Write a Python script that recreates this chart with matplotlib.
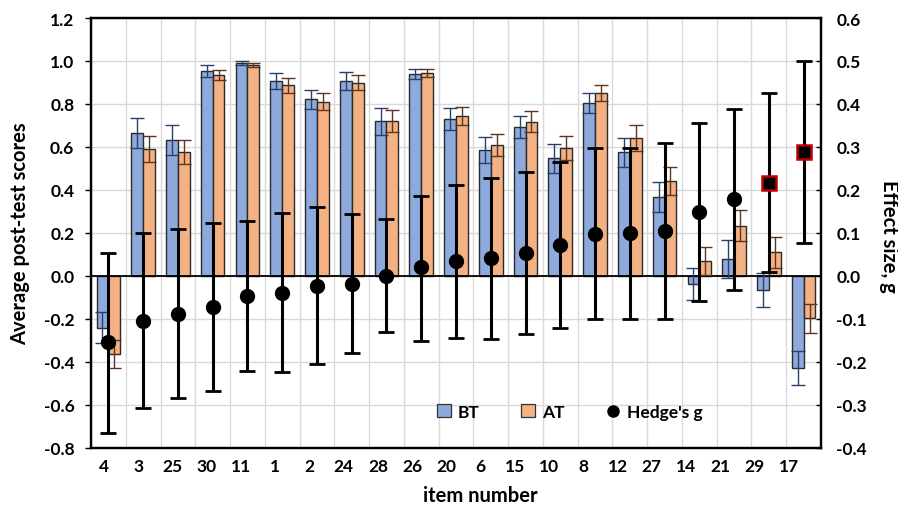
import numpy as np
import matplotlib
matplotlib.use("Agg")
import matplotlib.pyplot as plt
from matplotlib.patches import Patch
from matplotlib.lines import Line2D

plt.rcParams['font.family'] = ['Lato', 'DejaVu Sans']
plt.rcParams['font.weight'] = 'bold'

# Items in the order shown on the x-axis
items = ['4', '3', '25', '30', '11', '1', '2', '24', '28', '26', '20',
         '6', '15', '10', '8', '12', '27', '14', '21', '29', '17']

# Average post-test scores (left axis) with error bars
bt = [-0.240, 0.665, 0.633, 0.952, 0.990, 0.907, 0.823, 0.907, 0.720, 0.940, 0.730,
      0.586, 0.692, 0.547, 0.803, 0.575, 0.369, -0.037, 0.079, -0.065, -0.428]
bt_err = [0.073, 0.070, 0.068, 0.028, 0.010, 0.039, 0.044, 0.040, 0.062, 0.023, 0.050,
          0.060, 0.052, 0.066, 0.047, 0.067, 0.070, 0.073, 0.088, 0.078, 0.079]
at = [-0.363, 0.591, 0.575, 0.933, 0.981, 0.887, 0.811, 0.899, 0.720, 0.944, 0.743,
      0.611, 0.718, 0.595, 0.851, 0.642, 0.443, 0.071, 0.234, 0.110, -0.197]
at_err = [0.067, 0.060, 0.056, 0.023, 0.010, 0.035, 0.040, 0.035, 0.052, 0.020, 0.042,
          0.051, 0.050, 0.055, 0.037, 0.060, 0.064, 0.065, 0.073, 0.071, 0.068]

# Hedge's g (right axis) with confidence interval bounds
g = [-0.154, -0.105, -0.088, -0.072, -0.047, -0.039, -0.023, -0.018, 0.000, 0.020, 0.034,
     0.042, 0.054, 0.071, 0.098, 0.100, 0.105, 0.150, 0.178, 0.216, 0.288]
g_lo = [-0.365, -0.307, -0.284, -0.267, -0.222, -0.223, -0.205, -0.178, -0.131, -0.150, -0.145,
        -0.147, -0.134, -0.122, -0.100, -0.100, -0.100, -0.059, -0.033, 0.009, 0.076]
g_hi = [0.053, 0.100, 0.109, 0.123, 0.127, 0.147, 0.160, 0.144, 0.133, 0.187, 0.212,
        0.228, 0.243, 0.264, 0.298, 0.297, 0.309, 0.356, 0.389, 0.425, 0.501]
# items whose CI does not include zero (drawn as squares)
g_sig = [False] * 19 + [True, True]

left_ticks = [-0.8, -0.6, -0.4, -0.2, 0.0, 0.2, 0.4, 0.6, 0.8, 1.0, 1.2]
right_ticks = [-0.4, -0.3, -0.2, -0.1, 0.0, 0.1, 0.2, 0.3, 0.4, 0.5, 0.6]

blue = '#8EA9DC'
orange = '#F4B183'

fig = plt.figure(figsize=(8.98, 5.06), dpi=100)
ax = fig.add_axes([91 / 898, 57 / 506, 730 / 898, 430 / 506])
ax2 = ax.twinx()

x = np.arange(len(items))
w = 0.34

ax.bar(x - w / 2, bt, w, color=blue, edgecolor='#2A2A2A', linewidth=1.0, zorder=2)
ax.bar(x + w / 2, at, w, color=orange, edgecolor='#2A2A2A', linewidth=1.0, zorder=2)
ax.errorbar(x - w / 2, bt, yerr=bt_err, fmt='none', ecolor='#2B3F6B',
            elinewidth=1.0, capsize=5, capthick=1.0, zorder=3)
ax.errorbar(x + w / 2, at, yerr=at_err, fmt='none', ecolor='#5E3520',
            elinewidth=1.0, capsize=5, capthick=1.0, zorder=3)

ax.set_xlim(-0.5, len(items) - 0.5)
ax.set_ylim(-0.8, 1.2)
ax.set_yticks(left_ticks)
ax.set_yticklabels([f"{v:.1f}" for v in left_ticks])
ax.axhline(0, color='black', linewidth=1.3, zorder=2.5)

# vertical gridlines between categories, horizontal at left ticks
ax.set_xticks(np.arange(len(items) + 1) - 0.5, minor=True)
ax.grid(True, which='minor', axis='x', color='#D9D9D9', linewidth=1.0, zorder=0)
ax.grid(True, which='major', axis='y', color='#D9D9D9', linewidth=1.0, zorder=0)
ax.set_axisbelow(True)

# category labels sit a little left of the bar groups
label_pos = -0.126 + 0.985 * x
ax.set_xticks(label_pos)
ax.set_xticklabels(items)
ax.tick_params(axis='x', which='both', length=0, pad=7, labelsize=12.5)
ax.tick_params(axis='y', direction='out', length=4, width=1, pad=8, labelsize=12.5)

# Hedge's g on right axis
g = np.array(g)
yerr = [g - np.array(g_lo), np.array(g_hi) - g]
ax2.errorbar(x, g, yerr=yerr, fmt='none', ecolor='black', elinewidth=2.2,
             capsize=6, capthick=2.0, zorder=4)
sig = np.array(g_sig)
ax2.plot(x[~sig], g[~sig], 'o', color='black', markersize=10, zorder=5)
ax2.plot(x[sig], g[sig], 's', color='black', markeredgecolor='#C00000',
         markeredgewidth=1.8, markersize=10, zorder=5)
ax2.set_ylim(-0.4, 0.6)
ax2.set_yticks(right_ticks)
ax2.set_yticklabels([f"{v:.1f}" for v in right_ticks])
ax2.tick_params(axis='y', direction='in', length=3.5, width=1, pad=11, labelsize=12.5)

for a in (ax, ax2):
    for s in a.spines.values():
        s.set_color('black')
        s.set_linewidth(1.6)

ax.set_ylabel("Average post-test scores", fontsize=14.5, fontweight='bold')
ax.yaxis.set_label_coords(-0.084, 0.5)
ax.set_xlabel("item number", fontsize=14.5, fontweight='bold')
ax.xaxis.set_label_coords(0.533, -0.085)
ax2.set_ylabel("Effect size, g", fontsize=14.5, fontweight='bold', rotation=270,
               va='center')
ax2.yaxis.set_label_coords(1.093, 0.495)

handles = [
    Patch(facecolor=blue, edgecolor='#333333', linewidth=0.9, label='BT'),
    Patch(facecolor=orange, edgecolor='#333333', linewidth=0.9, label='AT'),
    Line2D([], [], marker='o', color='black', linestyle='none', markersize=8,
           label="Hedge's g"),
]
ax2.legend(handles=handles, loc='center', bbox_to_anchor=(0.656, 0.084), ncol=3,
           frameon=False, fontsize=12.5, handlelength=0.8, handleheight=0.8,
           handletextpad=0.4, columnspacing=2.4)

fig.savefig("out.png", dpi=100)
